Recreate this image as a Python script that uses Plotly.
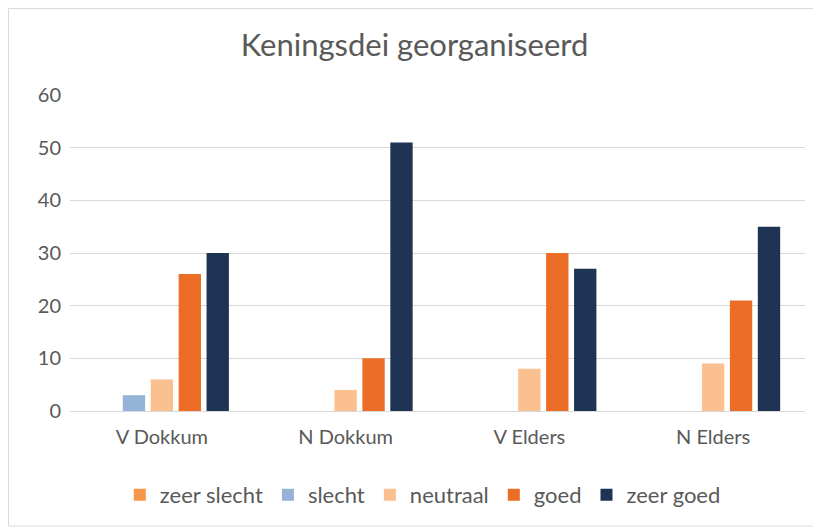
import plotly.graph_objects as go

# categorieën en reeksen
categories = ["V Dokkum", "N Dokkum", "V Elders", "N Elders"]
zeer_slecht = [0, 0, 0, 0]
slecht = [3, 0, 0, 0]
neutraal = [6, 4, 8, 9]
goed = [26, 10, 30, 21]
zeer_goed = [30, 51, 27, 35]

series = [
    ("zeer slecht", zeer_slecht, "#F79646"),
    ("slecht", slecht, "#95B3D7"),
    ("neutraal", neutraal, "#FAC090"),
    ("goed", goed, "#EC6E26"),
    ("zeer goed", zeer_goed, "#1F3354"),
]

fig = go.Figure()
for name, vals, col in series:
    fig.add_trace(go.Bar(x=categories, y=vals, name=name, marker_color=col,
                         marker_line_width=0))

# pagina heeft 8px body-marge, dus figuur iets kleiner
fig.update_layout(
    width=813, height=521,
    paper_bgcolor="white", plot_bgcolor="white",
    font=dict(family="Lato, Calibri, sans-serif", color="#595959", size=20),
    title=dict(text="Keningsdei georganiseerd", x=0.5, xanchor="center",
               y=0.929, yanchor="middle", font=dict(size=31, color="#595959")),
    barmode="group", bargap=0.24, bargroupgap=0.2,
    margin=dict(l=62, r=16, t=87, b=118, autoexpand=False),
    legend=dict(orientation="h", x=0.48, xanchor="center", y=-0.266, yanchor="middle",
                font=dict(size=22, color="#595959"), itemwidth=30),
    showlegend=True,
)
fig.update_yaxes(range=[0, 60], dtick=10, showgrid=True, gridcolor="#D9D9D9",
                 gridwidth=1, zeroline=False, showline=False, ticks="",
                 tickfont=dict(size=20), ticklabelstandoff=8)
fig.update_xaxes(showline=True, linecolor="#D9D9D9", linewidth=1, ticks="",
                 tickfont=dict(size=20), ticklabelstandoff=8)

# kaderrand
fig.add_shape(type="rect", xref="paper", yref="paper",
              x0=-0.0837, x1=1.0177, y0=-0.364, y1=1.2737,
              line=dict(color="#D9D9D9", width=1), fillcolor="rgba(0,0,0,0)")

fig.write_html("out.html")
